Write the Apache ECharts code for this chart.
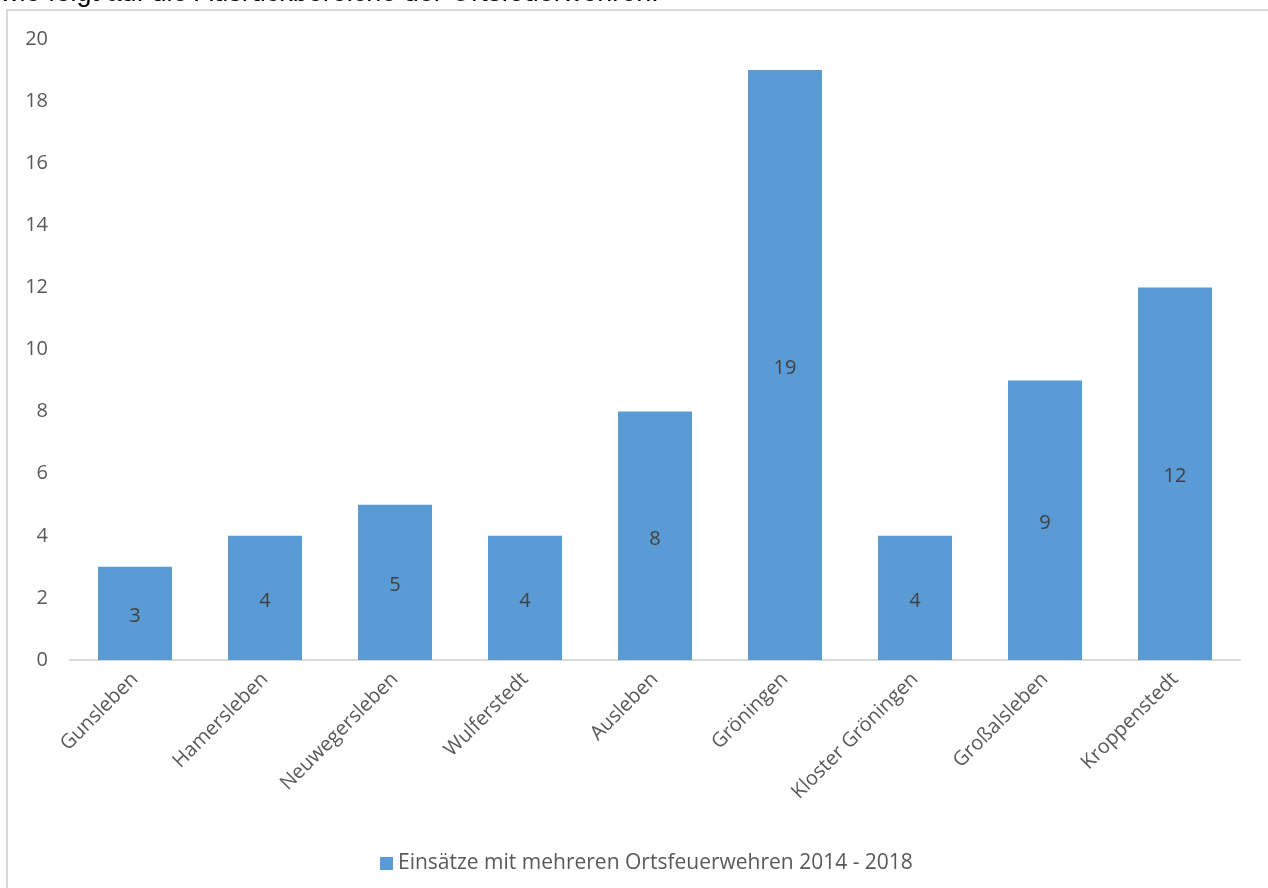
<!DOCTYPE html>
<html><head><meta charset="utf-8">
<script src="https://cdn.jsdelivr.net/npm/echarts@6/dist/echarts.min.js"></script>
<style>html,body{margin:0;padding:0;background:#fff}#c{width:1268px;height:888px}</style>
</head><body><div id="c"></div>
<script>
const categories = ['Gunsleben','Hamersleben','Neuwegersleben','Wulferstedt','Ausleben','Gröningen','Kloster Gröningen','Großalsleben','Kroppenstedt'];
const values = [3,4,5,4,8,19,4,9,12];
const seriesName = 'Einsätze mit mehreren Ortsfeuerwehren 2014 - 2018';
const yTicks = {min:0, max:20, interval:2};
const FONT = '"Open Sans", "Noto Sans", sans-serif';
const chart = echarts.init(document.getElementById('c'));
chart.setOption({
  animation:false,
  textStyle:{fontFamily:FONT},
  graphic:[
    {type:'rect', shape:{x:7, y:10, width:1300, height:1000}, style:{fill:'none', stroke:'#d9d9d9', lineWidth:2}, silent:true},
    {type:'text', left:0, top:-20, style:{text:'wie folgt auf die Ausrückbereiche der Ortsfeuerwehren.', font:'27px "Liberation Sans", Arial, sans-serif', fill:'#000'}}
  ],
  grid:{left:70, right:28, top:39, bottom:228, containLabel:false},
  legend:{bottom:9, left:375, itemWidth:13, itemHeight:13, itemGap:5, icon:'rect',
    textStyle:{fontSize:21, color:'#595959', fontFamily:FONT}, data:[seriesName]},
  xAxis:{type:'category', data:categories,
    axisLine:{lineStyle:{color:'#d9d9d9', width:2}}, axisTick:{show:false},
    axisLabel:{rotate:45, fontSize:20, color:'#595959', margin:16, interval:0}},
  yAxis:{type:'value', min:yTicks.min, max:yTicks.max, interval:yTicks.interval,
    axisLine:{show:false}, axisTick:{show:false}, splitLine:{show:false},
    axisLabel:{fontSize:20, color:'#595959', margin:22}},
  series:[{name:seriesName, type:'bar', data:values, barWidth:74,
    itemStyle:{color:'#5b9bd5'},
    label:{show:true, position:'inside', fontSize:20, color:'#404040', offset:[0,3]}}]
});
</script></body></html>
